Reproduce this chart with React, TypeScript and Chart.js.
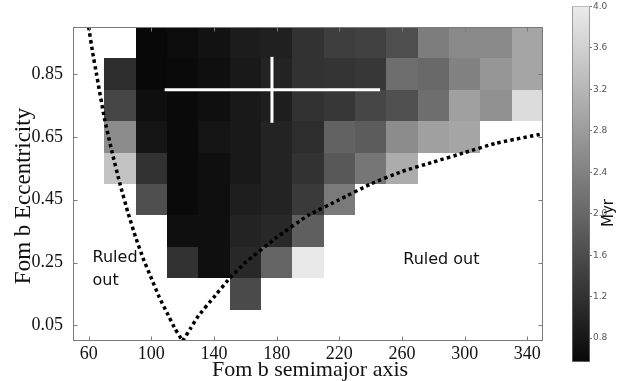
import React, { useEffect, useRef } from "react";
import { Chart, registerables } from "chart.js";

Chart.register(...registerables);

// ---- data ----
const semimajorAxes = [80, 100, 120, 140, 160, 180, 200, 220, 240, 260, 280, 300, 320, 340];
const eccentricities = [0.95, 0.85, 0.75, 0.65, 0.55, 0.45, 0.35, 0.25, 0.15, 0.05];

// ages in Myr, one array per eccentricity row (null = no value)
const ageE095 = [null, 0.57, 0.63, 0.72, 0.87, 0.93, 1.2, 1.39, 1.43, 1.63, 2.34, 2.52, 2.52, 2.94];
const ageE085 = [1.13, 0.57, 0.6, 0.68, 0.83, 0.98, 1.2, 1.23, 1.28, 2.11, 2.04, 2.41, 2.72, 2.94];
const ageE075 = [1.51, 0.68, 0.6, 0.68, 0.83, 0.9, 1.2, 1.28, 1.51, 1.66, 2.11, 2.87, 2.64, 3.77];
const ageE065 = [2.56, 0.75, 0.6, 0.75, 0.83, 0.98, 1.13, 1.93, 1.84, 2.56, 2.87, 2.94, null, null];
const ageE055 = [3.4, 1.2, 0.6, 0.68, 0.83, 0.98, 1.2, 1.78, 2.23, 3.05, null, null, null, null];
const ageE045 = [null, 1.63, 0.6, 0.68, 0.9, 0.98, 1.33, 2.29, null, null, null, null, null, null];
const ageE035 = [null, null, 0.68, 0.68, 0.98, 1.05, 1.88, null, null, null, null, null, null, null];
const ageE025 = [null, null, 1.2, 0.68, 1.05, 1.96, 3.95, null, null, null, null, null, null, null];
const ageE015 = [null, null, null, null, 1.58, null, null, null, null, null, null, null, null, null];
const ageE005 = [null, null, null, null, null, null, null, null, null, null, null, null, null, null];
const ageRows = [ageE095, ageE085, ageE075, ageE065, ageE055, ageE045, ageE035, ageE025, ageE015, ageE005];

// dotted boundary curves
const leftBoundA = [60, 62.5, 65, 70, 75, 80, 85, 90, 95, 100, 105, 110, 115, 120];
const leftBoundE = [1.0, 0.92, 0.85, 0.71, 0.6, 0.5, 0.41, 0.33, 0.26, 0.2, 0.14, 0.09, 0.04, 0.0];
const rightBoundA = [120, 125, 130, 140, 150, 160, 180, 200, 220, 240, 260, 280, 300, 320, 350];
const rightBoundE = [0.0, 0.04, 0.08, 0.14, 0.2, 0.25, 0.33, 0.4, 0.45, 0.5, 0.54, 0.57, 0.6, 0.63, 0.66];

// best fit with error bars
const bestFitA = [177];
const bestFitE = [0.8];
const errRangeA = [108.5, 246];
const errRangeE = [0.695, 0.905];

// ticks
const xTicks = [60, 100, 140, 180, 220, 260, 300, 340];
const yTicks = [0.05, 0.25, 0.45, 0.65, 0.85];
const cbTicks = [0.8, 1.2, 1.6, 2.0, 2.4, 2.8, 3.2, 3.6, 4.0];
const cbMin = 0.57;
const cbMax = 4.0;

const labelTexts = ["Ruled", "out", "Ruled out"];

// ---- layout / style ----
const CELL_W = 20;
const CELL_H = 0.1;
const labelPos = [
  { a: 62.5, e: 0.252 },
  { a: 62.5, e: 0.179 },
  { a: 260.8, e: 0.245 },
];
const SERIF = "'Liberation Serif', 'Times New Roman', serif";
const SANS = "'DejaVu Sans', sans-serif";
const FRAME = "#7a7a7a";

function grayFor(v: number) {
  const t = Math.max(0, Math.min(1, (v - cbMin) / (cbMax - cbMin)));
  const g = Math.round(8 + t * 227);
  return `rgb(${g},${g},${g})`;
}

const heatPlugin = {
  id: "heat",
  beforeDatasetsDraw(chart: any) {
    const { ctx, scales } = chart;
    const x = scales.x;
    const y = scales.y;
    ctx.save();
    ageRows.forEach((row, ri) => {
      const e = eccentricities[ri];
      row.forEach((v, ci) => {
        if (v == null) return;
        const a = semimajorAxes[ci];
        const x0 = Math.round(x.getPixelForValue(a - CELL_W / 2));
        const x1 = Math.round(x.getPixelForValue(a + CELL_W / 2));
        const y0 = Math.round(y.getPixelForValue(e + CELL_H / 2));
        const y1 = Math.round(y.getPixelForValue(e - CELL_H / 2));
        ctx.fillStyle = grayFor(v as number);
        ctx.fillRect(x0, y0, x1 - x0, y1 - y0);
      });
    });
    ctx.restore();
  },
  afterDatasetsDraw(chart: any) {
    const { ctx, scales, chartArea } = chart;
    const x = scales.x;
    const y = scales.y;
    ctx.save();
    // annotations
    ctx.fillStyle = "#111";
    ctx.font = `16px ${SANS}`;
    ctx.textAlign = "left";
    ctx.textBaseline = "alphabetic";
    labelTexts.forEach((t, i) => {
      ctx.fillText(t, x.getPixelForValue(labelPos[i].a), y.getPixelForValue(labelPos[i].e));
    });
    // frame
    ctx.strokeStyle = FRAME;
    ctx.lineWidth = 1;
    const l = Math.round(chartArea.left) + 0.5;
    const r = Math.round(chartArea.right) - 0.5;
    const t = Math.round(chartArea.top) + 0.5;
    const b = Math.round(chartArea.bottom) - 0.5;
    ctx.strokeRect(l, t, r - l, b - t);
    // inner ticks
    ctx.beginPath();
    xTicks.forEach((v) => {
      const px = Math.round(x.getPixelForValue(v)) + 0.5;
      ctx.moveTo(px, b);
      ctx.lineTo(px, b - 4);
      ctx.moveTo(px, t);
      ctx.lineTo(px, t + 4);
    });
    yTicks.forEach((v) => {
      const py = Math.round(y.getPixelForValue(v)) + 0.5;
      ctx.moveTo(l, py);
      ctx.lineTo(l + 4, py);
      ctx.moveTo(r, py);
      ctx.lineTo(r - 4, py);
    });
    ctx.stroke();
    ctx.restore();
  },
  afterDraw(chart: any) {
    const { ctx } = chart;
    ctx.save();
    ctx.fillStyle = "#111";
    ctx.font = `22px ${SERIF}`;
    ctx.textAlign = "center";
    ctx.textBaseline = "alphabetic";
    ctx.fillText("Fom b semimajor axis", 310, 376);
    ctx.translate(30, 196);
    ctx.rotate(-Math.PI / 2);
    ctx.font = `23px ${SERIF}`;
    ctx.fillText("Fom b Eccentricity", 0, 0);
    ctx.restore();
  },
};

const cbLabelPlugin = {
  id: "cblabel",
  afterDraw(chart: any) {
    const { ctx } = chart;
    ctx.save();
    ctx.fillStyle = "#111";
    ctx.font = `15px ${SANS}`;
    ctx.textAlign = "center";
    ctx.textBaseline = "alphabetic";
    ctx.translate(53, 213);
    ctx.rotate(-Math.PI / 2);
    ctx.fillText("Myr", 0, 0);
    ctx.restore();
  },
};

function lineDs(xs: number[], ys: number[], color: string, width: number, dash: number[]) {
  return {
    data: xs.map((a, i) => ({ x: a, y: ys[i] })),
    showLine: true,
    borderColor: color,
    backgroundColor: color,
    borderWidth: width,
    borderDash: dash,
    borderCapStyle: "butt",
    pointRadius: 0,
    tension: 0.1,
    clip: 0,
  };
}

export default function App() {
  const mainRef = useRef<HTMLCanvasElement>(null);
  const cbRef = useRef<HTMLCanvasElement>(null);

  useEffect(() => {
    const main = new Chart(mainRef.current as HTMLCanvasElement, {
      type: "scatter",
      data: {
        datasets: [
          lineDs(leftBoundA, leftBoundE, "#000", 3.5, [3.4, 3.2]),
          lineDs(rightBoundA, rightBoundE, "#000", 3.5, [3.4, 3.2]),
          lineDs(errRangeA, [bestFitE[0], bestFitE[0]], "#fff", 3, []),
          lineDs([bestFitA[0], bestFitA[0]], errRangeE, "#fff", 3, []),
        ] as any,
      },
      options: {
        responsive: false,
        animation: false,
        devicePixelRatio: 1,
        layout: { padding: { left: 0, top: 27, right: 75, bottom: 0 } },
        plugins: { legend: { display: false }, tooltip: { enabled: false } },
        scales: {
          x: {
            type: "linear",
            min: 50,
            max: 350,
            afterBuildTicks: (s: any) => {
              s.ticks = xTicks.map((v) => ({ value: v }));
            },
            afterFit: (s: any) => {
              s.height = 40;
            },
            grid: { display: false, drawTicks: false },
            border: { display: false },
            ticks: {
              font: { family: SERIF, size: 18 },
              color: "#111",
              padding: 2,
              maxRotation: 0,
              autoSkip: false,
            },
          },
          y: {
            type: "linear",
            min: 0,
            max: 1,
            afterBuildTicks: (s: any) => {
              s.ticks = yTicks.map((v) => ({ value: v }));
            },
            afterFit: (s: any) => {
              s.width = 73;
            },
            grid: { display: false, drawTicks: false },
            border: { display: false },
            ticks: {
              font: { family: SERIF, size: 18 },
              color: "#111",
              padding: 10,
              autoSkip: false,
              callback: (v: any) => Number(v).toFixed(2),
            },
          },
        },
      } as any,
      plugins: [heatPlugin],
    });

    const cb = new Chart(cbRef.current as HTMLCanvasElement, {
      type: "bar",
      data: {
        labels: ["Myr"],
        datasets: [
          {
            data: [[cbMin, cbMax]],
            backgroundColor: (c: any) => {
              const chart = c.chart;
              const { chartArea, scales } = chart;
              if (!chartArea || !scales.y) return "#888";
              const ys = scales.y;
              const g = chart.ctx.createLinearGradient(
                0,
                ys.getPixelForValue(cbMin),
                0,
                ys.getPixelForValue(cbMax)
              );
              g.addColorStop(0, grayFor(cbMin));
              g.addColorStop(1, grayFor(cbMax));
              return g;
            },
            borderColor: FRAME,
            borderWidth: 1,
            borderSkipped: false,
            barPercentage: 1,
            categoryPercentage: 1,
          },
        ] as any,
      },
      options: {
        responsive: false,
        animation: false,
        devicePixelRatio: 1,
        layout: { padding: { left: 12, top: 6, right: 0, bottom: 19 } },
        plugins: { legend: { display: false }, tooltip: { enabled: false } },
        scales: {
          x: { display: false },
          y: {
            position: "right",
            min: cbMin,
            max: cbMax,
            afterBuildTicks: (s: any) => {
              s.ticks = cbTicks.map((v) => ({ value: v }));
            },
            afterFit: (s: any) => {
              s.width = 28;
            },
            grid: { display: true, drawOnChartArea: false, tickLength: 2, color: FRAME },
            border: { display: false },
            ticks: {
              font: { family: SANS, size: 9 },
              color: "#555",
              padding: 1,
              autoSkip: false,
              callback: (v: any) => Number(v).toFixed(1),
            },
          },
        },
      } as any,
      plugins: [cbLabelPlugin],
    });

    return () => {
      main.destroy();
      cb.destroy();
    };
  }, []);

  return (
    <div style={{ position: "fixed", left: 0, top: 0, width: 618, height: 381, background: "#fff" }}>
      <canvas
        ref={mainRef}
        width={618}
        height={381}
        style={{ position: "absolute", left: 0, top: 0, width: 618, height: 381 }}
      />
      <canvas
        ref={cbRef}
        width={58}
        height={381}
        style={{ position: "absolute", left: 560, top: 0, width: 58, height: 381 }}
      />
    </div>
  );
}
